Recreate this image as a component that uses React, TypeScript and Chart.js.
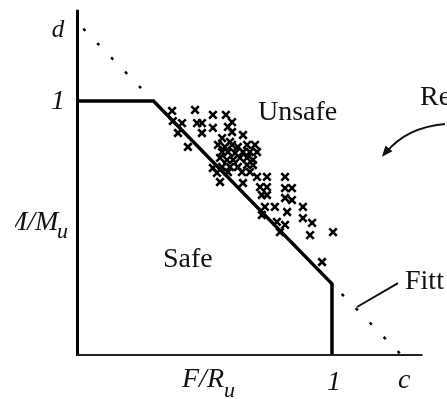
import React, { useEffect, useRef } from "react";
import { Chart, registerables } from "chart.js";

Chart.register(...registerables);

// Intercepts of the fitted interaction line
const interceptD = 1.31; // on the M/M_u axis
const interceptC = 1.272; // on the F/R_u axis

// Design boundary (plateau, fitted line, cut-off)
const boundaryX = [0, 0.3, 1, 1];
const boundaryY = [1, 1, 0.28, 0];

// Fitted line beyond the boundary
const fitUpperX = [0, 0.3];
const fitUpperY = [interceptD, 1];
const fitLowerX = [1, interceptC];
const fitLowerY = [0.28, 0];

// Test results
const testX = [
  0.373, 0.463, 0.533, 0.584, 0.376, 0.412, 0.471, 0.49, 0.608, 0.396, 0.49, 0.533,
  0.592, 0.608, 0.651, 0.435, 0.569, 0.6, 0.553, 0.58, 0.608, 0.631, 0.667, 0.698,
  0.569, 0.592, 0.62, 0.651, 0.678, 0.706, 0.561, 0.588, 0.612, 0.639, 0.667, 0.69,
  0.533, 0.569, 0.6, 0.631, 0.667, 0.69, 0.549, 0.592, 0.647, 0.678, 0.561, 0.651,
  0.706, 0.745, 0.816, 0.718, 0.745, 0.816, 0.843, 0.725, 0.745, 0.816, 0.843, 0.737,
  0.776, 0.886, 0.824, 0.725, 0.886, 0.922, 0.784, 0.816, 0.914, 1.004, 0.796, 0.961,
];
const testY = [
  0.961, 0.965, 0.945, 0.945, 0.921, 0.913, 0.913, 0.913, 0.917, 0.874, 0.874, 0.894,
  0.898, 0.878, 0.866, 0.819, 0.854, 0.839, 0.827, 0.819, 0.827, 0.819, 0.827, 0.827,
  0.799, 0.799, 0.795, 0.799, 0.799, 0.799, 0.776, 0.768, 0.768, 0.776, 0.776, 0.768,
  0.736, 0.74, 0.74, 0.74, 0.748, 0.748, 0.717, 0.72, 0.72, 0.72, 0.681, 0.677,
  0.701, 0.701, 0.701, 0.661, 0.661, 0.657, 0.657, 0.63, 0.63, 0.618, 0.61, 0.583,
  0.583, 0.583, 0.563, 0.551, 0.539, 0.52, 0.524, 0.512, 0.472, 0.484, 0.484, 0.366,
];

// Axis tick labels
const yTickValues = [1, interceptD];
const yTickLabels = ["1", "d"];
const xTickValues = [1, interceptC];
const xTickLabels = ["1", "c"];

const axisMax = 1.355;

const toPoints = (xs: number[], ys: number[]) => xs.map((x, i) => ({ x, y: ys[i] }));

const SERIF = "'Liberation Serif', 'Times New Roman', serif";

const annotate = {
  id: "annotate",
  afterDraw(chart: any) {
    const { ctx, scales } = chart;
    const xs = scales.x;
    const ys = scales.y;
    const px = (v: number) => xs.getPixelForValue(v);
    const py = (v: number) => ys.getPixelForValue(v);
    ctx.save();

    // axes
    ctx.strokeStyle = "#000";
    ctx.lineWidth = 3;
    ctx.beginPath();
    ctx.moveTo(px(0) + 0.5, py(axisMax) - 1);
    ctx.lineTo(px(0) + 0.5, py(0) + 1);
    ctx.stroke();
    ctx.lineWidth = 2;
    ctx.strokeStyle = "#222";
    ctx.beginPath();
    ctx.moveTo(px(0), py(0));
    ctx.lineTo(px(axisMax), py(0));
    ctx.stroke();

    ctx.fillStyle = "#111";
    ctx.textAlign = "center";
    ctx.textBaseline = "alphabetic";
    ctx.font = `italic 28px ${SERIF}`;
    // y ticks
    ctx.fillText(yTickLabels[0], 58, py(yTickValues[0]) + 8);
    ctx.font = `italic 25px ${SERIF}`;
    ctx.fillText(yTickLabels[1], 58, py(yTickValues[1]) + 15);
    // x ticks
    ctx.font = `italic 28px ${SERIF}`;
    ctx.fillText(xTickLabels[0], px(xTickValues[0]) + 2, py(0) + 35);
    ctx.fillText(xTickLabels[1], px(xTickValues[1]) + 3, py(0) + 33);

    // axis titles
    ctx.textAlign = "left";
    ctx.save();
    ctx.beginPath();
    ctx.rect(15, 190, 80, 60);
    ctx.clip();
    ctx.font = `italic 28px ${SERIF}`;
    ctx.fillText("M/M", 4, 230);
    ctx.font = `italic 22px ${SERIF}`;
    ctx.fillText("u", 57, 238);
    ctx.restore();

    ctx.font = `italic 28px ${SERIF}`;
    ctx.fillText("F/R", 182, 387);
    ctx.font = `italic 22px ${SERIF}`;
    ctx.fillText("u", 224, 397);

    // region labels
    ctx.font = `28px ${SERIF}`;
    ctx.fillText("Unsafe", 258, 120);
    ctx.fillText("Safe", 163, 267);
    ctx.fillText("Re", 420, 105);
    ctx.fillText("Fitt", 405, 289);

    // leader to fitted line
    ctx.strokeStyle = "#111";
    ctx.lineWidth = 2;
    ctx.beginPath();
    ctx.moveTo(px(1.098), py(0.189));
    ctx.lineTo(px(1.259), py(0.283));
    ctx.stroke();

    // curved arrow into the unsafe region
    const sx = px(1.443), sy = py(0.909);
    const cx = px(1.29), cy = py(0.895);
    const ex = px(1.196), ey = py(0.78);
    ctx.beginPath();
    ctx.moveTo(sx, sy);
    ctx.quadraticCurveTo(cx, cy, ex + 4, ey - 4);
    ctx.stroke();
    const ang = Math.atan2(ey - cy, ex - cx);
    const len = 11, half = 4.5;
    ctx.beginPath();
    ctx.moveTo(ex, ey);
    ctx.lineTo(ex - len * Math.cos(ang) + half * Math.sin(ang), ey - len * Math.sin(ang) - half * Math.cos(ang));
    ctx.lineTo(ex - len * Math.cos(ang) - half * Math.sin(ang), ey - len * Math.sin(ang) + half * Math.cos(ang));
    ctx.closePath();
    ctx.fillStyle = "#111";
    ctx.fill();

    ctx.restore();
  },
};

export default function App() {
  const ref = useRef<HTMLCanvasElement | null>(null);

  useEffect(() => {
    if (!ref.current) return;
    const dotted = {
      borderColor: "#000",
      borderWidth: 2.5,
      borderDash: [3, 17],
      pointRadius: 0,
      showLine: true,
      fill: false,
    };
    const chart = new Chart(ref.current, {
      type: "scatter",
      data: {
        datasets: [
          { ...dotted, data: toPoints(fitUpperX, fitUpperY), borderDashOffset: -9 },
          { ...dotted, data: toPoints(fitLowerX, fitLowerY), borderDashOffset: -14 },
          {
            data: toPoints(boundaryX, boundaryY),
            showLine: true,
            borderColor: "#000",
            borderWidth: 3.5,
            pointRadius: 0,
            fill: false,
          },
          {
            data: toPoints(testX, testY),
            pointStyle: "crossRot",
            pointRadius: 5.3,
            borderColor: "#000",
            borderWidth: 2.6,
            showLine: false,
          },
        ],
      },
      options: {
        animation: false,
        responsive: false,
        devicePixelRatio: 1,
        layout: { padding: { left: 77, right: 24.5, top: 10.8, bottom: 44 } },
        plugins: { legend: { display: false }, tooltip: { enabled: false } },
        scales: {
          x: { type: "linear", min: 0, max: axisMax, display: false },
          y: { type: "linear", min: 0, max: axisMax, display: false },
        },
      },
      plugins: [annotate],
    });
    return () => chart.destroy();
  }, []);

  return (
    <div style={{ position: "absolute", left: 0, top: 0, width: 447, height: 399, background: "#fff" }}>
      <canvas ref={ref} width={447} height={399} />
    </div>
  );
}
